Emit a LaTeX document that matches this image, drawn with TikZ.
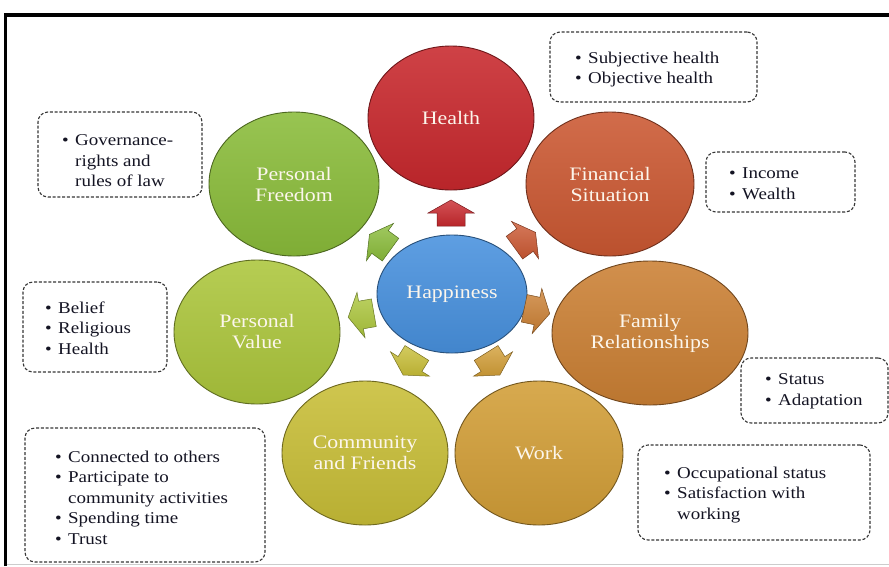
\documentclass[tikz,border=0pt]{standalone}
\usepackage{fontspec}
\setmainfont{Liberation Serif}[FakeStretch=1.15]
\usetikzlibrary{shapes.geometric}
\definecolor{cHealth}{RGB}{200,40,45}
\definecolor{cFin}{RGB}{203,88,50}
\definecolor{cFam}{RGB}{203,128,52}
\definecolor{cWork}{RGB}{210,158,55}
\definecolor{cComm}{RGB}{200,190,55}
\definecolor{cVal}{RGB}{172,198,60}
\definecolor{cFree}{RGB}{138,188,58}
\definecolor{cHap}{RGB}{72,145,222}
\definecolor{labelcol}{RGB}{252,246,236}
\definecolor{boxtext}{RGB}{20,20,35}
\definecolor{boxline}{RGB}{55,55,55}
\newcommand\bl{\makebox[13pt][l]{\textbullet}}
\newcommand\ind{\hspace*{13pt}}
\newcommand\blockarrow[3]{%
  \begin{scope}[shift={#1}, rotate=#2]
    \path[top color=#3!80!white, bottom color=#3!92!black, draw=#3!60!black, line width=0.5pt]
      (-13,-14) -- (0,-14) -- (0,-23) -- (13,0) -- (0,23) -- (0,14) -- (-13,14) -- cycle;
  \end{scope}}
\tikzset{
  circ/.style={ellipse, inner sep=0pt, draw=#1!55!black, line width=0.9pt,
    top color=#1!88!white, bottom color=#1!92!black, text=labelcol,
    align=center, font=\fontsize{19}{21}\selectfont},
  infobox/.style={draw=boxline, dashed, dash pattern=on 3pt off 1.8pt, line width=1.1pt,
    rounded corners=10pt, inner sep=0pt},
  itemtext/.style={inner sep=0pt, anchor=north west, align=left, text=boxtext,
    font=\fontsize{16.5}{20.5}\selectfont}
}
\begin{document}
\begin{tikzpicture}[x=1pt,y=-1pt]
\useasboundingbox (0,0) rectangle (889,566);
\fill[white] (0,0) rectangle (889,566);
% frame
\draw[black!20, line width=1pt] (6,564) -- (889,564);
\draw[line width=3.2pt] (5.5,566) -- (5.5,15) -- (889,15);

% circles
\node[circ=cHealth, minimum width=166pt, minimum height=144pt] (health) at (451,118) {Health};
\node[circ=cFin, minimum width=168pt, minimum height=144pt] (fin) at (610,184) {Financial\\Situation};
\node[circ=cFam, minimum width=196pt, minimum height=144pt] (fam) at (650,333) {Family\\Relationships};
\node[circ=cWork, minimum width=168pt, minimum height=144pt] (work) at (539,453) {Work};
\node[circ=cComm, minimum width=166pt, minimum height=144pt] (comm) at (365,453) {Community\\and Friends};
\node[circ=cVal, minimum width=166pt, minimum height=144pt] (val) at (257,332) {Personal\\Value};
\node[circ=cFree, minimum width=170pt, minimum height=144pt] (free) at (294,184) {Personal\\Freedom};
\node[circ=cHap, minimum width=150pt, minimum height=118pt] (hap) at (452,294) {Happiness};

% block arrows from Happiness towards each factor
\blockarrow{(451,213)}{90}{cHealth}
\blockarrow{(525,240)}{36}{cFin}
\blockarrow{(537,311)}{-12}{cFam}
\blockarrow{(493,364)}{-58}{cWork}
\blockarrow{(410,364)}{-122}{cComm}
\blockarrow{(361,315)}{190}{cVal}
\blockarrow{(380,242)}{144}{cFree}

% dashed boxes
\node[infobox, minimum width=207pt, minimum height=70pt] (bHealth) at (653.5,67) {};
\node[infobox, minimum width=149pt, minimum height=60pt] (bFin) at (780.5,182) {};
\node[infobox, minimum width=147pt, minimum height=65pt] (bFam) at (814.5,390.5) {};
\node[infobox, minimum width=232pt, minimum height=95pt] (bWork) at (754,492.5) {};
\node[infobox, minimum width=240pt, minimum height=134pt] (bComm) at (145,495) {};
\node[infobox, minimum width=164pt, minimum height=85pt] (bFree) at (120,154.5) {};
\node[infobox, minimum width=144pt, minimum height=90pt] (bVal) at (95,327) {};

% box texts
\node[itemtext] (tHealth) at (575,51.5) {\bl Subjective health\\\bl Objective health};
\node[itemtext] (tFin) at (729,167.5) {\bl Income\\\bl Wealth};
\node[itemtext] (tFam) at (765,373.5) {\bl Status\\\bl Adaptation};
\node[itemtext] (tWork) at (664,466.5) {\bl Occupational status\\\bl Satisfaction with\\\ind working};
\node[itemtext] (tComm) at (55,450.5) {\bl Connected to others\\\bl Participate to\\\ind community activities\\\bl Spending time\\\bl Trust};
\node[itemtext] (tFree) at (62,134.5) {\bl Governance-\\\ind rights and\\\ind rules of law};
\node[itemtext] (tVal) at (45,301.5) {\bl Belief\\\bl Religious\\\bl Health};
\end{tikzpicture}
\end{document}
